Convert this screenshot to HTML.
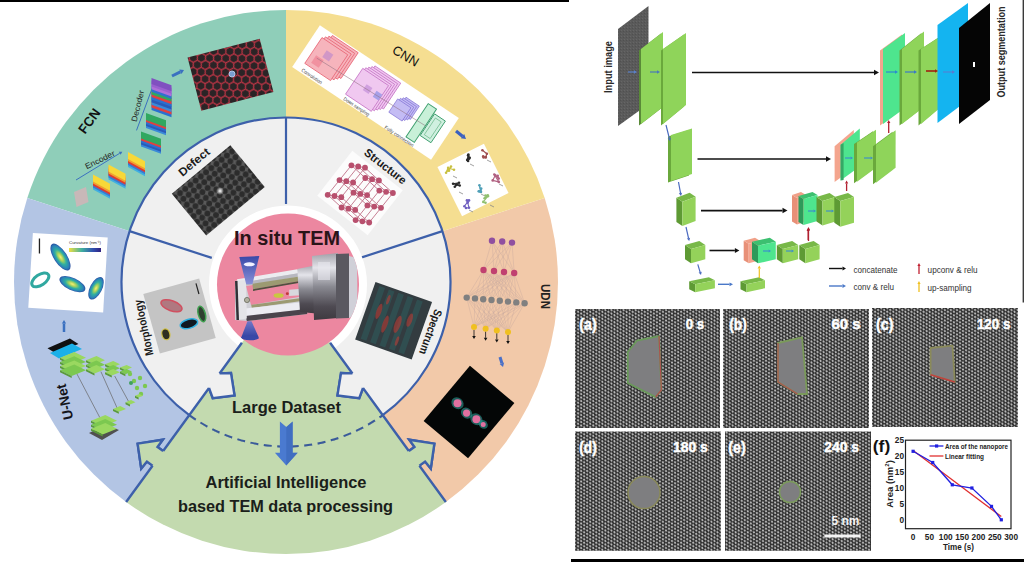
<!DOCTYPE html>
<html><head><meta charset="utf-8"><style>
html,body{margin:0;padding:0;background:#fff;width:1024px;height:562px;overflow:hidden}
svg{display:block}
text{font-family:'Liberation Sans',sans-serif}
</style></head><body>
<svg width="1024" height="562" viewBox="0 0 1024 562">
<rect x="0" y="0" width="569" height="2" fill="#000"/>
<path d="M286,282 L286.00,10.00 A272,272 0 0 0 27.31,197.95 Z" fill="#8fceb9" />
<path d="M286,282 L27.31,197.95 A272,272 0 0 0 126.12,502.05 Z" fill="#b3c5e4" />
<path d="M286,282 L126.12,502.05 A272,272 0 0 0 445.88,502.05 Z" fill="#c3daaf" />
<path d="M286,282 L445.88,502.05 A272,272 0 0 0 544.69,197.95 Z" fill="#f2c9a9" />
<path d="M286,282 L544.69,197.95 A272,272 0 0 0 286.00,10.00 Z" fill="#f5de91" />
<path d="M286,282 L382.69,415.08 A164.5,164.5 0 1 0 189.31,415.08 Z" fill="#f0f0f0" />
<path d="M382.69,415.08 A164.5,164.5 0 1 0 189.31,415.08" fill="none" stroke="#3d60aa" stroke-width="2.2"/>
<path d="M189.31,415.08 A164.5,164.5 0 0 0 382.69,415.08" fill="none" stroke="#3a5a9a" stroke-width="2" stroke-dasharray="8,5.5"/>
<line x1="286.00" y1="204.00" x2="286.00" y2="117.50" stroke="#3d60aa" stroke-width="2.2"/>
<line x1="211.82" y1="257.90" x2="129.55" y2="231.17" stroke="#3d60aa" stroke-width="2.2"/>
<line x1="360.18" y1="257.90" x2="442.45" y2="231.17" stroke="#3d60aa" stroke-width="2.2"/>
<circle cx="288" cy="284.5" r="79" fill="#ffffff"/>
<path d="M286,282 L188.72,415.89 A165.5,165.5 0 0 0 383.28,415.89 Z" fill="#c3daaf" />
<path d="M189.31,415.08 A164.5,164.5 0 0 0 382.69,415.08" fill="none" stroke="#3a5a9a" stroke-width="2" stroke-dasharray="8,5.5"/>
<path d="M241.92,342.68 L219.58,373.42 L230.98,373.05 L234.52,395.40 L212.75,398.13 L209.00,387.98 L163.15,451.08 L157.49,446.97 L162.78,439.69 L137.64,443.67 L141.22,468.52 L146.91,461.53 L152.57,465.65 L126.12,502.05" fill="none" stroke="#3d60aa" stroke-width="2.4" stroke-linejoin="miter"/>
<path d="M217.15,371.66 L219.58,373.42 L230.98,373.05 L234.52,395.40 L212.75,398.13 L209.00,387.98 L206.57,386.22Z" fill="#f0f0f0" stroke="none"/>
<path d="M165.58,452.85 L163.15,451.08 L157.49,446.97 L162.78,439.69 L137.64,443.67 L141.22,468.52 L146.91,461.53 L152.57,465.65 L155.00,467.41Z" fill="#c3daaf" stroke="none"/>
<path d="M219.58,373.42 L230.98,373.05 L234.52,395.40 L212.75,398.13 L209.00,387.98" fill="none" stroke="#3d60aa" stroke-width="2.4"/>
<path d="M163.15,451.08 L157.49,446.97 L162.78,439.69 L137.64,443.67 L141.22,468.52 L146.91,461.53 L152.57,465.65" fill="none" stroke="#3d60aa" stroke-width="2.4"/>
<path d="M330.08,342.68 L352.42,373.42 L341.02,373.05 L337.48,395.40 L359.25,398.13 L363.00,387.98 L408.85,451.08 L414.51,446.97 L409.22,439.69 L434.36,443.67 L430.78,468.52 L425.09,461.53 L419.43,465.65 L445.88,502.05" fill="none" stroke="#3d60aa" stroke-width="2.4" stroke-linejoin="miter"/>
<path d="M354.85,371.66 L352.42,373.42 L341.02,373.05 L337.48,395.40 L359.25,398.13 L363.00,387.98 L365.43,386.22Z" fill="#f0f0f0" stroke="none"/>
<path d="M406.42,452.85 L408.85,451.08 L414.51,446.97 L409.22,439.69 L434.36,443.67 L430.78,468.52 L425.09,461.53 L419.43,465.65 L417.00,467.41Z" fill="#c3daaf" stroke="none"/>
<path d="M352.42,373.42 L341.02,373.05 L337.48,395.40 L359.25,398.13 L363.00,387.98" fill="none" stroke="#3d60aa" stroke-width="2.4"/>
<path d="M408.85,451.08 L414.51,446.97 L409.22,439.69 L434.36,443.67 L430.78,468.52 L425.09,461.53 L419.43,465.65" fill="none" stroke="#3d60aa" stroke-width="2.4"/>
<circle cx="288" cy="284.5" r="71" fill="#ec87a0"/>
<defs>
<linearGradient id="hcyl" x1="0" y1="0" x2="1" y2="0"><stop offset="0" stop-color="#6a6a72"/><stop offset="0.3" stop-color="#c8c8d0"/><stop offset="0.6" stop-color="#8a8a92"/><stop offset="1" stop-color="#4a4a52"/></linearGradient>
<linearGradient id="hcyl3" x1="0" y1="0" x2="0" y2="1"><stop offset="0" stop-color="#a0a0a8"/><stop offset="0.22" stop-color="#e4e4ea"/><stop offset="0.5" stop-color="#8a8a92"/><stop offset="0.8" stop-color="#4e4a52"/><stop offset="1" stop-color="#3e3a40"/></linearGradient>
<linearGradient id="hframe" x1="0" y1="0" x2="0" y2="1"><stop offset="0" stop-color="#e8e8ec"/><stop offset="1" stop-color="#c0c0c8"/></linearGradient>
<linearGradient id="hcone" x1="0" y1="0" x2="0" y2="1"><stop offset="0" stop-color="#3848a8"/><stop offset="1" stop-color="#8890d8"/></linearGradient>
<linearGradient id="hcone2" x1="0" y1="0" x2="0" y2="1"><stop offset="0" stop-color="#7078c8"/><stop offset="1" stop-color="#3040a0"/></linearGradient>
</defs>
<defs><clipPath id="pinkclip"><circle cx="288" cy="284.5" r="71"/></clipPath></defs><g clip-path="url(#pinkclip)">
<polygon points="235,281 297,271 307,307 307.3,314 246.8,321 235,320" fill="#d0d0d6"/>
<polygon points="246,286 299,278 304.8,296 251,305" fill="#ec87a0"/>
<polygon points="236.9,279.3 297.3,269.3 299.8,273.1 238.1,283" fill="#ececf0"/>
<polygon points="238.1,283 299.8,273.1 299.8,276.5 240,286.5" fill="#b8b8c0"/>
<polygon points="252.4,283.7 297.9,276.8 298.5,281.2 253,289.3" fill="#9c9a72"/>
<polygon points="253,289.3 298.5,281.2 298.5,283 253,291" fill="#505040"/>
<polygon points="251.2,304.8 304.8,297.4 304.8,300.5 251.8,308" fill="#9c9a72"/>
<polygon points="245,308.6 306,301.7 306.6,309 245.6,316" fill="#ececf2"/>
<polygon points="245.6,316 306.6,309 307.3,314 246.8,321" fill="#4a444c"/>
<polygon points="235,281 246,280 246.8,318.6 237,320" fill="#e4e4e8"/>
<polygon points="235,281 237.5,281 239,320 236.5,320" fill="#303036"/>
<circle cx="247" cy="300" r="2.6" fill="#b0b0a0" stroke="#606050" stroke-width="0.7"/>
<polygon points="289.2,289.8 304.8,288.5 304.8,294.9 289.2,296" fill="#d8d8de"/>
<ellipse cx="278.6" cy="295.5" rx="5" ry="2.3" fill="#c8c840"/>
<ellipse cx="287.3" cy="293.7" rx="1.5" ry="1.4" fill="#c03838"/>
<polygon points="297.3,269 322,264 322,314 300,312" fill="url(#hcyl3)"/>
<polygon points="312,256 338,253 338,318 314,320" fill="url(#hcyl3)"/>
<polygon points="336,254 349,253.5 349,318 336,318.5" fill="#5a5860"/>
<polygon points="349,256 357,258 357.5,315 349,318" fill="#d0d0d8"/>
<rect x="318" y="262" width="12" height="18" fill="#e8e8ee" opacity="0.6"/>
<polygon points="239.3,257 259.3,256 252.4,284.3 246.2,284.3" fill="url(#hcone)"/>
<ellipse cx="249.3" cy="264.3" rx="5.6" ry="2" fill="#f0f0ff"/>
<polygon points="247.5,321.2 251.5,321.2 258.8,337.5 241,338" fill="url(#hcone2)"/>
<ellipse cx="250" cy="338" rx="9" ry="2.2" fill="#3848a8"/>
</g>
<text x="287" y="238" font-size="20" font-weight="bold" fill="#2a1418" text-anchor="middle" dominant-baseline="central" textLength="106" lengthAdjust="spacingAndGlyphs" >In situ TEM</text>
<text x="286.5" y="407" font-size="16.4" font-weight="bold" fill="#1a201a" text-anchor="middle" dominant-baseline="central" textLength="109" lengthAdjust="spacingAndGlyphs" >Large Dataset</text>
<text x="286" y="482" font-size="16.4" font-weight="bold" fill="#1a201a" text-anchor="middle" dominant-baseline="central" textLength="161" lengthAdjust="spacingAndGlyphs" >Artificial Intelligence</text>
<text x="285.5" y="506" font-size="16.4" font-weight="bold" fill="#1a201a" text-anchor="middle" dominant-baseline="central" textLength="215" lengthAdjust="spacingAndGlyphs" >based TEM data processing</text>
<polygon points="279.9,421.4 286.3,427 292.7,421.4 292.7,452.7 297.7,452.7 286.3,465.5 274.9,452.7 279.9,452.7" fill="#4a7ad0"/><polygon points="286.3,427 292.7,421.4 292.7,452.7 297.7,452.7 286.3,465.5" fill="#3a66b8" opacity="0.6"/>
<defs>
<pattern id="hexred" width="10.4" height="6" patternUnits="userSpaceOnUse" patternTransform="rotate(-14.5) scale(1.35)">
<rect width="10.4" height="6" fill="#2a2426"/>
<path d="M0,3 L1.73,0 L5.2,0 L6.93,3 L5.2,6 L1.73,6 Z M6.93,3 L10.4,3" fill="none" stroke="#b83444" stroke-width="1.0"/>
</pattern>
<pattern id="hexgray" width="9" height="7.8" patternUnits="userSpaceOnUse" patternTransform="rotate(-40) scale(1.12)">
<rect width="9" height="7.8" fill="#5a5a5a"/>
<circle cx="4.5" cy="3.9" r="2.7" fill="#2c2c2c"/>
<circle cx="0" cy="0" r="2.7" fill="#2c2c2c"/><circle cx="9" cy="0" r="2.7" fill="#2c2c2c"/>
<circle cx="0" cy="7.8" r="2.7" fill="#2c2c2c"/><circle cx="9" cy="7.8" r="2.7" fill="#2c2c2c"/>
</pattern>
<radialGradient id="dotw"><stop offset="0" stop-color="#fff"/><stop offset="1" stop-color="#fff" stop-opacity="0"/></radialGradient>
<radialGradient id="ell" cx="0.5" cy="0.5" r="0.5"><stop offset="0" stop-color="#f0f080"/><stop offset="0.45" stop-color="#40b0a0"/><stop offset="0.8" stop-color="#2a7ab0"/><stop offset="1" stop-color="#30a090"/></radialGradient>
<linearGradient id="cyl" x1="0" y1="0" x2="0" y2="1"><stop offset="0" stop-color="#e8e8ec"/><stop offset="0.35" stop-color="#b8b8c0"/><stop offset="0.7" stop-color="#707078"/><stop offset="1" stop-color="#4a4a50"/></linearGradient>
<linearGradient id="cyl2" x1="0" y1="0" x2="1" y2="0"><stop offset="0" stop-color="#58585e"/><stop offset="0.5" stop-color="#a0a0a8"/><stop offset="1" stop-color="#606068"/></linearGradient>
<linearGradient id="cone" x1="0" y1="0" x2="0" y2="1"><stop offset="0" stop-color="#3040a0"/><stop offset="1" stop-color="#5060c0"/></linearGradient>
</defs>
<rect x="193.25" y="47.20" width="74.5" height="55" fill="url(#hexred)" transform="rotate(-14.5 230.5 74.7)" />
<circle cx="232" cy="74" r="3" fill="#7aa0d0" stroke="#b0c8e8" stroke-width="1"/>
<text x="89.4" y="121.1" font-size="13.5" font-weight="bold" fill="#111" text-anchor="middle" dominant-baseline="central" textLength="27" lengthAdjust="spacingAndGlyphs" transform="rotate(-54 89.4 121.1)" >FCN</text>
<text x="100" y="160" font-size="8" font-weight="normal" fill="#222" text-anchor="middle" dominant-baseline="central" textLength="32" lengthAdjust="spacingAndGlyphs" transform="rotate(-26 100 160)" >Encoder</text>
<text x="138" y="106" font-size="8" font-weight="normal" fill="#222" text-anchor="middle" dominant-baseline="central" textLength="32" lengthAdjust="spacingAndGlyphs" transform="rotate(-76 138 106)" >Decoder</text>
<line x1="76" y1="180" x2="119.7" y2="153.3" stroke="#3a70c0" stroke-width="1"/>
<polygon points="122.3,151.7 120.7,154.8 118.8,151.7" fill="#3a70c0" />
<line x1="136.5" y1="130.4" x2="153.3" y2="85.1" stroke="#3a70c0" stroke-width="1"/>
<polygon points="154.3,82.3 154.9,85.7 151.6,84.5" fill="#3a70c0" />
<polygon points="74.0,192.0 86.0,187.0 88.5,202.0 76.5,207.0" fill="#c8b8b8" />
<polygon points="93.0,182.5 110.0,191.8 110.0,198.8 93.0,189.5" fill="#40b0e0" />
<polygon points="93.0,180.5 110.0,189.8 110.0,196.8 93.0,187.5" fill="#3a7ad0" />
<polygon points="93.0,178.5 110.0,187.8 110.0,194.8 93.0,185.5" fill="#e03a30" />
<polygon points="93.0,176.5 110.0,185.8 110.0,192.8 93.0,183.5" fill="#f0a030" />
<polygon points="93.0,174.5 110.0,183.8 110.0,190.8 93.0,181.5" fill="#f8d838" />
<polygon points="108.5,172.5 125.5,181.8 125.5,188.8 108.5,179.5" fill="#40b0e0" />
<polygon points="108.5,170.5 125.5,179.8 125.5,186.8 108.5,177.5" fill="#3a7ad0" />
<polygon points="108.5,168.5 125.5,177.8 125.5,184.8 108.5,175.5" fill="#e03a30" />
<polygon points="108.5,166.5 125.5,175.8 125.5,182.8 108.5,173.5" fill="#f0a030" />
<polygon points="108.5,164.5 125.5,173.8 125.5,180.8 108.5,171.5" fill="#f8d838" />
<polygon points="128.0,160.0 145.0,169.3 145.0,176.3 128.0,167.0" fill="#40b0e0" />
<polygon points="128.0,158.0 145.0,167.3 145.0,174.3 128.0,165.0" fill="#3a7ad0" />
<polygon points="128.0,156.0 145.0,165.3 145.0,172.3 128.0,163.0" fill="#e03a30" />
<polygon points="128.0,154.0 145.0,163.3 145.0,170.3 128.0,161.0" fill="#f0a030" />
<polygon points="128.0,152.0 145.0,161.3 145.0,168.3 128.0,159.0" fill="#f8d838" />
<polygon points="141.0,139.5 161.0,146.7 161.0,153.7 141.0,146.5" fill="#3a8ad8" />
<polygon points="141.0,137.5 161.0,144.7 161.0,151.7 141.0,144.5" fill="#2a5ab8" />
<polygon points="141.0,135.5 161.0,142.7 161.0,149.7 141.0,142.5" fill="#2a70d0" />
<polygon points="141.0,133.5 161.0,140.7 161.0,147.7 141.0,140.5" fill="#e04040" />
<polygon points="141.0,131.5 161.0,138.7 161.0,145.7 141.0,138.5" fill="#30a860" />
<polygon points="146.0,121.0 166.0,128.2 166.0,135.2 146.0,128.0" fill="#3a8ad8" />
<polygon points="146.0,119.0 166.0,126.2 166.0,133.2 146.0,126.0" fill="#2a5ab8" />
<polygon points="146.0,117.0 166.0,124.2 166.0,131.2 146.0,124.0" fill="#2a70d0" />
<polygon points="146.0,115.0 166.0,122.2 166.0,129.2 146.0,122.0" fill="#e04040" />
<polygon points="146.0,113.0 166.0,120.2 166.0,127.2 146.0,120.0" fill="#30a860" />
<polygon points="151.5,104.0 171.5,111.2 171.5,117.2 151.5,110.0" fill="#2a70d0" />
<polygon points="151.5,101.4 171.5,108.6 171.5,114.6 151.5,107.4" fill="#e04040" />
<polygon points="151.5,98.8 171.5,106.0 171.5,112.0 151.5,104.8" fill="#3a8ad8" />
<polygon points="151.5,96.2 171.5,103.4 171.5,109.4 151.5,102.2" fill="#2a5ab8" />
<polygon points="151.5,93.6 171.5,100.8 171.5,106.8 151.5,99.6" fill="#2a70d0" />
<polygon points="151.5,91.0 171.5,98.2 171.5,104.2 151.5,97.0" fill="#e04040" />
<polygon points="151.5,88.4 171.5,95.6 171.5,101.6 151.5,94.4" fill="#30a860" />
<polygon points="151.5,85.8 171.5,93.0 171.5,99.0 151.5,91.8" fill="#3070d0" />
<polygon points="151.5,83.2 171.5,90.4 171.5,96.4 151.5,89.2" fill="#b070d8" />
<polygon points="151.5,80.6 171.5,87.8 171.5,93.8 151.5,86.6" fill="#9a60d0" />
<polygon points="151.5,78.0 171.5,85.2 171.5,91.2 151.5,84.0" fill="#8050c0" />
<line x1="172" y1="76" x2="180.4" y2="71.8" stroke="#3a70c0" stroke-width="3"/>
<polygon points="184.0,70.0 181.5,73.9 179.3,69.6" fill="#3a70c0" />
<rect x="292.00" y="67.50" width="167" height="50" fill="#ffffff" transform="rotate(33.7 375.5 92.5)" />
<g transform="translate(375.5 92.5) rotate(33.7)">
<rect x="-67.5" y="-23.5" width="31" height="31" fill="#f6b4bc" stroke="#e86878" stroke-width="0.8"/>
<rect x="-70.0" y="-21.0" width="31" height="31" fill="#f6b4bc" stroke="#e86878" stroke-width="0.8"/>
<rect x="-72.5" y="-18.5" width="31" height="31" fill="#f6b4bc" stroke="#e86878" stroke-width="0.8"/>
<rect x="-75.0" y="-16.0" width="31" height="31" fill="#f6b4bc" stroke="#e86878" stroke-width="0.8"/>
<rect x="-70" y="2" width="9" height="9" fill="#f08898" opacity="0.8"/><rect x="-64" y="-8" width="8" height="8" fill="#c890c8" opacity="0.8"/>
<rect x="-15.2" y="-21.8" width="31" height="31" fill="#f0c8f0" stroke="#c878c8" stroke-width="0.8"/>
<rect x="-17.4" y="-19.6" width="31" height="31" fill="#f0c8f0" stroke="#c878c8" stroke-width="0.8"/>
<rect x="-19.6" y="-17.4" width="31" height="31" fill="#f0c8f0" stroke="#c878c8" stroke-width="0.8"/>
<rect x="-21.8" y="-15.2" width="31" height="31" fill="#f0c8f0" stroke="#c878c8" stroke-width="0.8"/>
<rect x="-24.0" y="-13.0" width="31" height="31" fill="#f0c8f0" stroke="#c878c8" stroke-width="0.8"/>
<rect x="-12" y="-2" width="7" height="7" fill="#d0a0e0"/><rect x="0" y="-2" width="7" height="7" fill="#a8a0e8"/>
<rect x="28.0" y="-13.0" width="16" height="16" fill="#c4bcf4" stroke="#7868d0" stroke-width="0.6"/>
<rect x="26.0" y="-11.0" width="16" height="16" fill="#c4bcf4" stroke="#7868d0" stroke-width="0.6"/>
<rect x="24.0" y="-9.0" width="16" height="16" fill="#c4bcf4" stroke="#7868d0" stroke-width="0.6"/>
<rect x="22.0" y="-7.0" width="16" height="16" fill="#c4bcf4" stroke="#7868d0" stroke-width="0.6"/>
<rect x="50" y="-20" width="10" height="40" fill="#c8f0d8" stroke="#40a070" stroke-width="1"/>
<rect x="61" y="-15" width="13" height="26" fill="#d0f0e0" stroke="#40a070" stroke-width="0.9"/>
<rect x="64" y="-12" width="7" height="20" fill="none" stroke="#60b080" stroke-width="0.6"/>
<line x1="-68" y1="4" x2="60" y2="0" stroke="#907080" stroke-width="0.5"/>
<text x="-62" y="21.5" font-size="5" font-weight="normal" fill="#444" text-anchor="middle" dominant-baseline="central" textLength="24" lengthAdjust="spacingAndGlyphs" >Convolution</text>
<text x="-8" y="22" font-size="5" font-weight="normal" fill="#444" text-anchor="middle" dominant-baseline="central" textLength="30" lengthAdjust="spacingAndGlyphs" >Down sampling</text>
<text x="44" y="23" font-size="5" font-weight="normal" fill="#444" text-anchor="middle" dominant-baseline="central" textLength="34" lengthAdjust="spacingAndGlyphs" >Fully connection</text>
</g>
<text x="405.7" y="56" font-size="13" font-weight="normal" fill="#111" text-anchor="middle" dominant-baseline="central" transform="rotate(31 405.7 56)" >CNN</text>
<rect x="447.00" y="152.50" width="52" height="55" fill="#ffffff" transform="rotate(-26.6 473 180)" />
<line x1="447.9" y1="170.4" x2="449.0" y2="170.8" stroke="#c8c040" stroke-width="1.1"/>
<line x1="449.0" y1="170.8" x2="451.0" y2="166.5" stroke="#c8c040" stroke-width="1.1"/>
<line x1="451.0" y1="166.5" x2="446.1" y2="172.7" stroke="#c8c040" stroke-width="1.1"/>
<line x1="446.1" y1="172.7" x2="448.1" y2="167.9" stroke="#c8c040" stroke-width="1.1"/>
<line x1="448.1" y1="167.9" x2="454.0" y2="169.8" stroke="#c8c040" stroke-width="1.1"/>
<circle cx="447.9" cy="170.4" r="1.3" fill="#c8c040"/>
<circle cx="449.0" cy="170.8" r="1.3" fill="#c8c040"/>
<circle cx="451.0" cy="166.5" r="1.3" fill="#c8c040"/>
<circle cx="446.1" cy="172.7" r="1.3" fill="#c8c040"/>
<circle cx="448.1" cy="167.9" r="1.3" fill="#c8c040"/>
<circle cx="454.0" cy="169.8" r="1.3" fill="#c8c040"/>
<line x1="453" y1="176" x2="457" y2="178" stroke="#888" stroke-width="0.8"/>
<line x1="469.7" y1="157.8" x2="468.1" y2="155.2" stroke="#2a2a2a" stroke-width="1.1"/>
<line x1="468.1" y1="155.2" x2="468.1" y2="160.9" stroke="#2a2a2a" stroke-width="1.1"/>
<line x1="468.1" y1="160.9" x2="467.2" y2="159.9" stroke="#2a2a2a" stroke-width="1.1"/>
<line x1="467.2" y1="159.9" x2="468.4" y2="154.5" stroke="#2a2a2a" stroke-width="1.1"/>
<line x1="468.4" y1="154.5" x2="469.1" y2="158.7" stroke="#2a2a2a" stroke-width="1.1"/>
<circle cx="469.7" cy="157.8" r="1.3" fill="#2a2a2a"/>
<circle cx="468.1" cy="155.2" r="1.3" fill="#2a2a2a"/>
<circle cx="468.1" cy="160.9" r="1.3" fill="#2a2a2a"/>
<circle cx="467.2" cy="159.9" r="1.3" fill="#2a2a2a"/>
<circle cx="468.4" cy="154.5" r="1.3" fill="#2a2a2a"/>
<circle cx="469.1" cy="158.7" r="1.3" fill="#2a2a2a"/>
<line x1="470" y1="164" x2="474" y2="166" stroke="#888" stroke-width="0.8"/>
<line x1="482.4" y1="150.2" x2="486.9" y2="153.8" stroke="#a05050" stroke-width="1.1"/>
<line x1="486.9" y1="153.8" x2="485.8" y2="157.0" stroke="#a05050" stroke-width="1.1"/>
<line x1="485.8" y1="157.0" x2="485.7" y2="157.4" stroke="#a05050" stroke-width="1.1"/>
<line x1="485.7" y1="157.4" x2="483.2" y2="156.4" stroke="#a05050" stroke-width="1.1"/>
<line x1="483.2" y1="156.4" x2="483.6" y2="157.5" stroke="#a05050" stroke-width="1.1"/>
<circle cx="482.4" cy="150.2" r="1.3" fill="#a05050"/>
<circle cx="486.9" cy="153.8" r="1.3" fill="#a05050"/>
<circle cx="485.8" cy="157.0" r="1.3" fill="#a05050"/>
<circle cx="485.7" cy="157.4" r="1.3" fill="#a05050"/>
<circle cx="483.2" cy="156.4" r="1.3" fill="#a05050"/>
<circle cx="483.6" cy="157.5" r="1.3" fill="#a05050"/>
<line x1="487" y1="160" x2="491" y2="162" stroke="#888" stroke-width="0.8"/>
<line x1="459.0" y1="182.8" x2="453.1" y2="183.7" stroke="#2a2a2a" stroke-width="1.1"/>
<line x1="453.1" y1="183.7" x2="459.7" y2="185.5" stroke="#2a2a2a" stroke-width="1.1"/>
<line x1="459.7" y1="185.5" x2="457.0" y2="184.4" stroke="#2a2a2a" stroke-width="1.1"/>
<line x1="457.0" y1="184.4" x2="456.1" y2="185.1" stroke="#2a2a2a" stroke-width="1.1"/>
<line x1="456.1" y1="185.1" x2="454.8" y2="186.7" stroke="#2a2a2a" stroke-width="1.1"/>
<circle cx="459.0" cy="182.8" r="1.3" fill="#2a2a2a"/>
<circle cx="453.1" cy="183.7" r="1.3" fill="#2a2a2a"/>
<circle cx="459.7" cy="185.5" r="1.3" fill="#2a2a2a"/>
<circle cx="457.0" cy="184.4" r="1.3" fill="#2a2a2a"/>
<circle cx="456.1" cy="185.1" r="1.3" fill="#2a2a2a"/>
<circle cx="454.8" cy="186.7" r="1.3" fill="#2a2a2a"/>
<line x1="459" y1="192" x2="463" y2="194" stroke="#888" stroke-width="0.8"/>
<line x1="478.7" y1="191.2" x2="479.5" y2="191.4" stroke="#50a0b8" stroke-width="1.1"/>
<line x1="479.5" y1="191.4" x2="480.9" y2="191.9" stroke="#50a0b8" stroke-width="1.1"/>
<line x1="480.9" y1="191.9" x2="479.4" y2="185.3" stroke="#50a0b8" stroke-width="1.1"/>
<line x1="479.4" y1="185.3" x2="480.9" y2="191.7" stroke="#50a0b8" stroke-width="1.1"/>
<line x1="480.9" y1="191.7" x2="481.2" y2="188.6" stroke="#50a0b8" stroke-width="1.1"/>
<circle cx="478.7" cy="191.2" r="1.3" fill="#50a0b8"/>
<circle cx="479.5" cy="191.4" r="1.3" fill="#50a0b8"/>
<circle cx="480.9" cy="191.9" r="1.3" fill="#50a0b8"/>
<circle cx="479.4" cy="185.3" r="1.3" fill="#50a0b8"/>
<circle cx="480.9" cy="191.7" r="1.3" fill="#50a0b8"/>
<circle cx="481.2" cy="188.6" r="1.3" fill="#50a0b8"/>
<line x1="481" y1="194" x2="485" y2="196" stroke="#888" stroke-width="0.8"/>
<line x1="497.7" y1="175.7" x2="498.7" y2="178.6" stroke="#b06080" stroke-width="1.1"/>
<line x1="498.7" y1="178.6" x2="494.3" y2="174.5" stroke="#b06080" stroke-width="1.1"/>
<line x1="494.3" y1="174.5" x2="498.8" y2="181.9" stroke="#b06080" stroke-width="1.1"/>
<line x1="498.8" y1="181.9" x2="492.7" y2="180.4" stroke="#b06080" stroke-width="1.1"/>
<line x1="492.7" y1="180.4" x2="495.3" y2="175.2" stroke="#b06080" stroke-width="1.1"/>
<circle cx="497.7" cy="175.7" r="1.3" fill="#b06080"/>
<circle cx="498.7" cy="178.6" r="1.3" fill="#b06080"/>
<circle cx="494.3" cy="174.5" r="1.3" fill="#b06080"/>
<circle cx="498.8" cy="181.9" r="1.3" fill="#b06080"/>
<circle cx="492.7" cy="180.4" r="1.3" fill="#b06080"/>
<circle cx="495.3" cy="175.2" r="1.3" fill="#b06080"/>
<line x1="499" y1="184" x2="503" y2="186" stroke="#888" stroke-width="0.8"/>
<line x1="464.4" y1="206.2" x2="469.0" y2="200.4" stroke="#7060c0" stroke-width="1.1"/>
<line x1="469.0" y1="200.4" x2="466.9" y2="200.4" stroke="#7060c0" stroke-width="1.1"/>
<line x1="466.9" y1="200.4" x2="467.7" y2="202.6" stroke="#7060c0" stroke-width="1.1"/>
<line x1="467.7" y1="202.6" x2="469.0" y2="207.8" stroke="#7060c0" stroke-width="1.1"/>
<line x1="469.0" y1="207.8" x2="466.0" y2="208.0" stroke="#7060c0" stroke-width="1.1"/>
<circle cx="464.4" cy="206.2" r="1.3" fill="#7060c0"/>
<circle cx="469.0" cy="200.4" r="1.3" fill="#7060c0"/>
<circle cx="466.9" cy="200.4" r="1.3" fill="#7060c0"/>
<circle cx="467.7" cy="202.6" r="1.3" fill="#7060c0"/>
<circle cx="469.0" cy="207.8" r="1.3" fill="#7060c0"/>
<circle cx="466.0" cy="208.0" r="1.3" fill="#7060c0"/>
<line x1="469" y1="210" x2="473" y2="212" stroke="#888" stroke-width="0.8"/>
<line x1="485.5" y1="195.6" x2="487.8" y2="195.3" stroke="#90c070" stroke-width="1.1"/>
<line x1="487.8" y1="195.3" x2="484.6" y2="198.3" stroke="#90c070" stroke-width="1.1"/>
<line x1="484.6" y1="198.3" x2="487.9" y2="196.2" stroke="#90c070" stroke-width="1.1"/>
<line x1="487.9" y1="196.2" x2="483.3" y2="201.9" stroke="#90c070" stroke-width="1.1"/>
<line x1="483.3" y1="201.9" x2="485.5" y2="202.7" stroke="#90c070" stroke-width="1.1"/>
<circle cx="485.5" cy="195.6" r="1.3" fill="#90c070"/>
<circle cx="487.8" cy="195.3" r="1.3" fill="#90c070"/>
<circle cx="484.6" cy="198.3" r="1.3" fill="#90c070"/>
<circle cx="487.9" cy="196.2" r="1.3" fill="#90c070"/>
<circle cx="483.3" cy="201.9" r="1.3" fill="#90c070"/>
<circle cx="485.5" cy="202.7" r="1.3" fill="#90c070"/>
<line x1="490" y1="205" x2="494" y2="207" stroke="#888" stroke-width="0.8"/>
<line x1="456" y1="131" x2="462.5" y2="136.2" stroke="#3a60c0" stroke-width="3.2"/>
<polygon points="466.0,139.0 460.8,138.3 464.2,134.1" fill="#3a60c0" />
<line x1="492.0" y1="240.7" x2="483.5" y2="270.0" stroke="#c8a8a0" stroke-width="0.4"/>
<line x1="492.0" y1="240.7" x2="494.0" y2="271.0" stroke="#c8a8a0" stroke-width="0.4"/>
<line x1="492.0" y1="240.7" x2="504.0" y2="272.0" stroke="#c8a8a0" stroke-width="0.4"/>
<line x1="492.0" y1="240.7" x2="514.2" y2="273.0" stroke="#c8a8a0" stroke-width="0.4"/>
<line x1="502.2" y1="241.5" x2="483.5" y2="270.0" stroke="#c8a8a0" stroke-width="0.4"/>
<line x1="502.2" y1="241.5" x2="494.0" y2="271.0" stroke="#c8a8a0" stroke-width="0.4"/>
<line x1="502.2" y1="241.5" x2="504.0" y2="272.0" stroke="#c8a8a0" stroke-width="0.4"/>
<line x1="502.2" y1="241.5" x2="514.2" y2="273.0" stroke="#c8a8a0" stroke-width="0.4"/>
<line x1="512.0" y1="242.6" x2="483.5" y2="270.0" stroke="#c8a8a0" stroke-width="0.4"/>
<line x1="512.0" y1="242.6" x2="494.0" y2="271.0" stroke="#c8a8a0" stroke-width="0.4"/>
<line x1="512.0" y1="242.6" x2="504.0" y2="272.0" stroke="#c8a8a0" stroke-width="0.4"/>
<line x1="512.0" y1="242.6" x2="514.2" y2="273.0" stroke="#c8a8a0" stroke-width="0.4"/>
<line x1="483.5" y1="270.0" x2="466.7" y2="297.6" stroke="#c8a8a0" stroke-width="0.4"/>
<line x1="483.5" y1="270.0" x2="475.0" y2="298.4" stroke="#c8a8a0" stroke-width="0.4"/>
<line x1="483.5" y1="270.0" x2="483.2" y2="299.2" stroke="#c8a8a0" stroke-width="0.4"/>
<line x1="483.5" y1="270.0" x2="491.5" y2="300.0" stroke="#c8a8a0" stroke-width="0.4"/>
<line x1="483.5" y1="270.0" x2="499.8" y2="300.8" stroke="#c8a8a0" stroke-width="0.4"/>
<line x1="483.5" y1="270.0" x2="508.0" y2="301.6" stroke="#c8a8a0" stroke-width="0.4"/>
<line x1="483.5" y1="270.0" x2="516.3" y2="302.4" stroke="#c8a8a0" stroke-width="0.4"/>
<line x1="483.5" y1="270.0" x2="524.6" y2="303.2" stroke="#c8a8a0" stroke-width="0.4"/>
<line x1="494.0" y1="271.0" x2="466.7" y2="297.6" stroke="#c8a8a0" stroke-width="0.4"/>
<line x1="494.0" y1="271.0" x2="475.0" y2="298.4" stroke="#c8a8a0" stroke-width="0.4"/>
<line x1="494.0" y1="271.0" x2="483.2" y2="299.2" stroke="#c8a8a0" stroke-width="0.4"/>
<line x1="494.0" y1="271.0" x2="491.5" y2="300.0" stroke="#c8a8a0" stroke-width="0.4"/>
<line x1="494.0" y1="271.0" x2="499.8" y2="300.8" stroke="#c8a8a0" stroke-width="0.4"/>
<line x1="494.0" y1="271.0" x2="508.0" y2="301.6" stroke="#c8a8a0" stroke-width="0.4"/>
<line x1="494.0" y1="271.0" x2="516.3" y2="302.4" stroke="#c8a8a0" stroke-width="0.4"/>
<line x1="494.0" y1="271.0" x2="524.6" y2="303.2" stroke="#c8a8a0" stroke-width="0.4"/>
<line x1="504.0" y1="272.0" x2="466.7" y2="297.6" stroke="#c8a8a0" stroke-width="0.4"/>
<line x1="504.0" y1="272.0" x2="475.0" y2="298.4" stroke="#c8a8a0" stroke-width="0.4"/>
<line x1="504.0" y1="272.0" x2="483.2" y2="299.2" stroke="#c8a8a0" stroke-width="0.4"/>
<line x1="504.0" y1="272.0" x2="491.5" y2="300.0" stroke="#c8a8a0" stroke-width="0.4"/>
<line x1="504.0" y1="272.0" x2="499.8" y2="300.8" stroke="#c8a8a0" stroke-width="0.4"/>
<line x1="504.0" y1="272.0" x2="508.0" y2="301.6" stroke="#c8a8a0" stroke-width="0.4"/>
<line x1="504.0" y1="272.0" x2="516.3" y2="302.4" stroke="#c8a8a0" stroke-width="0.4"/>
<line x1="504.0" y1="272.0" x2="524.6" y2="303.2" stroke="#c8a8a0" stroke-width="0.4"/>
<line x1="514.2" y1="273.0" x2="466.7" y2="297.6" stroke="#c8a8a0" stroke-width="0.4"/>
<line x1="514.2" y1="273.0" x2="475.0" y2="298.4" stroke="#c8a8a0" stroke-width="0.4"/>
<line x1="514.2" y1="273.0" x2="483.2" y2="299.2" stroke="#c8a8a0" stroke-width="0.4"/>
<line x1="514.2" y1="273.0" x2="491.5" y2="300.0" stroke="#c8a8a0" stroke-width="0.4"/>
<line x1="514.2" y1="273.0" x2="499.8" y2="300.8" stroke="#c8a8a0" stroke-width="0.4"/>
<line x1="514.2" y1="273.0" x2="508.0" y2="301.6" stroke="#c8a8a0" stroke-width="0.4"/>
<line x1="514.2" y1="273.0" x2="516.3" y2="302.4" stroke="#c8a8a0" stroke-width="0.4"/>
<line x1="514.2" y1="273.0" x2="524.6" y2="303.2" stroke="#c8a8a0" stroke-width="0.4"/>
<line x1="466.7" y1="297.6" x2="474.0" y2="327.0" stroke="#c8a8a0" stroke-width="0.4"/>
<line x1="466.7" y1="297.6" x2="485.6" y2="328.8" stroke="#c8a8a0" stroke-width="0.4"/>
<line x1="466.7" y1="297.6" x2="496.8" y2="330.4" stroke="#c8a8a0" stroke-width="0.4"/>
<line x1="466.7" y1="297.6" x2="508.0" y2="332.0" stroke="#c8a8a0" stroke-width="0.4"/>
<line x1="475.0" y1="298.4" x2="474.0" y2="327.0" stroke="#c8a8a0" stroke-width="0.4"/>
<line x1="475.0" y1="298.4" x2="485.6" y2="328.8" stroke="#c8a8a0" stroke-width="0.4"/>
<line x1="475.0" y1="298.4" x2="496.8" y2="330.4" stroke="#c8a8a0" stroke-width="0.4"/>
<line x1="475.0" y1="298.4" x2="508.0" y2="332.0" stroke="#c8a8a0" stroke-width="0.4"/>
<line x1="483.2" y1="299.2" x2="474.0" y2="327.0" stroke="#c8a8a0" stroke-width="0.4"/>
<line x1="483.2" y1="299.2" x2="485.6" y2="328.8" stroke="#c8a8a0" stroke-width="0.4"/>
<line x1="483.2" y1="299.2" x2="496.8" y2="330.4" stroke="#c8a8a0" stroke-width="0.4"/>
<line x1="483.2" y1="299.2" x2="508.0" y2="332.0" stroke="#c8a8a0" stroke-width="0.4"/>
<line x1="491.5" y1="300.0" x2="474.0" y2="327.0" stroke="#c8a8a0" stroke-width="0.4"/>
<line x1="491.5" y1="300.0" x2="485.6" y2="328.8" stroke="#c8a8a0" stroke-width="0.4"/>
<line x1="491.5" y1="300.0" x2="496.8" y2="330.4" stroke="#c8a8a0" stroke-width="0.4"/>
<line x1="491.5" y1="300.0" x2="508.0" y2="332.0" stroke="#c8a8a0" stroke-width="0.4"/>
<line x1="499.8" y1="300.8" x2="474.0" y2="327.0" stroke="#c8a8a0" stroke-width="0.4"/>
<line x1="499.8" y1="300.8" x2="485.6" y2="328.8" stroke="#c8a8a0" stroke-width="0.4"/>
<line x1="499.8" y1="300.8" x2="496.8" y2="330.4" stroke="#c8a8a0" stroke-width="0.4"/>
<line x1="499.8" y1="300.8" x2="508.0" y2="332.0" stroke="#c8a8a0" stroke-width="0.4"/>
<line x1="508.0" y1="301.6" x2="474.0" y2="327.0" stroke="#c8a8a0" stroke-width="0.4"/>
<line x1="508.0" y1="301.6" x2="485.6" y2="328.8" stroke="#c8a8a0" stroke-width="0.4"/>
<line x1="508.0" y1="301.6" x2="496.8" y2="330.4" stroke="#c8a8a0" stroke-width="0.4"/>
<line x1="508.0" y1="301.6" x2="508.0" y2="332.0" stroke="#c8a8a0" stroke-width="0.4"/>
<line x1="516.3" y1="302.4" x2="474.0" y2="327.0" stroke="#c8a8a0" stroke-width="0.4"/>
<line x1="516.3" y1="302.4" x2="485.6" y2="328.8" stroke="#c8a8a0" stroke-width="0.4"/>
<line x1="516.3" y1="302.4" x2="496.8" y2="330.4" stroke="#c8a8a0" stroke-width="0.4"/>
<line x1="516.3" y1="302.4" x2="508.0" y2="332.0" stroke="#c8a8a0" stroke-width="0.4"/>
<line x1="524.6" y1="303.2" x2="474.0" y2="327.0" stroke="#c8a8a0" stroke-width="0.4"/>
<line x1="524.6" y1="303.2" x2="485.6" y2="328.8" stroke="#c8a8a0" stroke-width="0.4"/>
<line x1="524.6" y1="303.2" x2="496.8" y2="330.4" stroke="#c8a8a0" stroke-width="0.4"/>
<line x1="524.6" y1="303.2" x2="508.0" y2="332.0" stroke="#c8a8a0" stroke-width="0.4"/>
<circle cx="492" cy="240.7" r="3.2" fill="#9050a0"/>
<circle cx="502.2" cy="241.5" r="3.2" fill="#9050a0"/>
<circle cx="512" cy="242.6" r="3.2" fill="#9050a0"/>
<circle cx="483.5" cy="270" r="3.2" fill="#c04070"/>
<circle cx="494" cy="271" r="3.2" fill="#c04070"/>
<circle cx="504" cy="272" r="3.2" fill="#c04070"/>
<circle cx="514.2" cy="273" r="3.2" fill="#c04070"/>
<circle cx="466.7" cy="297.6" r="3.2" fill="#808080"/>
<circle cx="475.0" cy="298.4" r="3.2" fill="#808080"/>
<circle cx="483.2" cy="299.2" r="3.2" fill="#808080"/>
<circle cx="491.5" cy="300.0" r="3.2" fill="#808080"/>
<circle cx="499.8" cy="300.8" r="3.2" fill="#808080"/>
<circle cx="508.0" cy="301.6" r="3.2" fill="#808080"/>
<circle cx="516.3" cy="302.4" r="3.2" fill="#808080"/>
<circle cx="524.6" cy="303.2" r="3.2" fill="#808080"/>
<circle cx="474" cy="327" r="3" fill="#f0c020"/>
<line x1="474" y1="330" x2="474.0" y2="336.0" stroke="#111" stroke-width="0.8"/>
<polygon points="474.0,339.0 472.2,336.0 475.8,336.0" fill="#111" />
<circle cx="485.6" cy="328.8" r="3" fill="#f0c020"/>
<line x1="485.6" y1="331.8" x2="485.6" y2="337.8" stroke="#111" stroke-width="0.8"/>
<polygon points="485.6,340.8 483.8,337.8 487.4,337.8" fill="#111" />
<circle cx="496.8" cy="330.4" r="3" fill="#f0c020"/>
<line x1="496.8" y1="333.4" x2="496.8" y2="339.4" stroke="#111" stroke-width="0.8"/>
<polygon points="496.8,342.4 495.0,339.4 498.6,339.4" fill="#111" />
<circle cx="508" cy="332" r="3" fill="#f0c020"/>
<line x1="508" y1="335" x2="508.0" y2="341.0" stroke="#111" stroke-width="0.8"/>
<polygon points="508.0,344.0 506.2,341.0 509.8,341.0" fill="#111" />
<rect x="433.00" y="383.00" width="72" height="58" fill="#040606" transform="rotate(-50 469 412)" />
<ellipse cx="457.5" cy="403.3" rx="6.5" ry="5.5" fill="#30a8a0" opacity="0.55" transform="rotate(40 457.5 403.3)"/>
<circle cx="457.5" cy="403.3" r="4" fill="#e070a0"/>
<ellipse cx="466.6" cy="413.1" rx="6.1" ry="5.1" fill="#30a8a0" opacity="0.55" transform="rotate(40 466.6 413.1)"/>
<circle cx="466.6" cy="413.1" r="3.6" fill="#e070a0"/>
<ellipse cx="476.4" cy="419.2" rx="6.5" ry="5.5" fill="#30a8a0" opacity="0.55" transform="rotate(40 476.4 419.2)"/>
<circle cx="476.4" cy="419.2" r="4" fill="#e070a0"/>
<ellipse cx="483.2" cy="424.4" rx="5.0" ry="4.0" fill="#30a8a0" opacity="0.55" transform="rotate(40 483.2 424.4)"/>
<circle cx="483.2" cy="424.4" r="2.5" fill="#e070a0"/>
<line x1="500" y1="357" x2="501.9" y2="363.2" stroke="#4a70c8" stroke-width="3"/>
<polygon points="503.0,367.0 499.6,363.9 504.1,362.5" fill="#4a70c8" />
<text x="544.5" y="296.5" font-size="12" font-weight="bold" fill="#222" text-anchor="middle" dominant-baseline="central" textLength="25" lengthAdjust="spacingAndGlyphs" transform="rotate(90 544.5 296.5)" >UDN</text>
<rect x="30.50" y="235.20" width="75" height="75" fill="#ffffff" transform="rotate(3.5 68 272.7)" />
<defs><radialGradient id="ell2" cx="0.5" cy="0.5" r="0.5"><stop offset="0" stop-color="#f8f070"/><stop offset="0.3" stop-color="#a0d060"/><stop offset="0.55" stop-color="#30b0a0"/><stop offset="0.85" stop-color="#2a80b8"/><stop offset="1" stop-color="#2a50a0"/></radialGradient>
<linearGradient id="cbar" x1="0" x2="1"><stop offset="0" stop-color="#f0e040"/><stop offset="0.4" stop-color="#40b0a0"/><stop offset="0.75" stop-color="#3050b0"/><stop offset="1" stop-color="#302080"/></linearGradient></defs>
<ellipse cx="60.5" cy="257.1" rx="15.5" ry="6.5" fill="url(#ell2)" transform="rotate(57 60.5 257.1)"/>
<ellipse cx="72.4" cy="284.1" rx="14" ry="6.2" fill="url(#ell2)" transform="rotate(25 72.4 284.1)"/>
<ellipse cx="96" cy="288.3" rx="12.3" ry="6" fill="url(#ell2)" transform="rotate(-63 96 288.3)"/>
<ellipse cx="40.3" cy="279.9" rx="9.7" ry="5.2" fill="none" stroke="#30a8a0" stroke-width="3" transform="rotate(-34 40.3 279.9)"/>
<rect x="38.8" y="238.5" width="1.3" height="15" fill="#222"/>
<rect x="69" y="248" width="32" height="4" fill="url(#cbar)"/>
<text x="85" y="242.5" font-size="4" font-weight="normal" fill="#333" text-anchor="middle" dominant-baseline="central" textLength="32" lengthAdjust="spacingAndGlyphs" >Curvature (nm⁻¹)</text>
<line x1="64" y1="332" x2="64.0" y2="323.5" stroke="#3a70c0" stroke-width="2.5"/>
<polygon points="64.0,320.0 66.1,323.5 61.9,323.5" fill="#3a70c0" />
<polygon points="47.5,348.2 69.9,338.5 78.4,343.9 56.0,353.5" fill="#101010" />
<polygon points="50.0,353.0 72.0,343.5 82.0,349.0 59.0,358.5" fill="#1ab0e8" />
<line x1="75.2" y1="370.6" x2="99.8" y2="417.5" stroke="#666" stroke-width="0.7"/>
<line x1="100.9" y1="371.6" x2="118" y2="410" stroke="#666" stroke-width="0.7"/>
<line x1="114.7" y1="376" x2="128.6" y2="401.5" stroke="#666" stroke-width="0.7"/>
<polygon points="60.0,357.7 74.3,352.0 86.0,357.7 71.7,363.4" fill="#9ad860" />
<polygon points="60.0,357.7 71.7,363.4 71.7,365.4 60.0,359.7" fill="#5a9a3a" />
<polygon points="60.0,361.9 74.3,356.2 86.0,361.9 71.7,367.6" fill="#7cc850" />
<polygon points="60.0,361.9 71.7,367.6 71.7,369.6 60.0,363.9" fill="#5a9a3a" />
<polygon points="60.0,366.1 74.3,360.4 86.0,366.1 71.7,371.8" fill="#9ad860" />
<polygon points="60.0,366.1 71.7,371.8 71.7,373.8 60.0,368.1" fill="#5a9a3a" />
<polygon points="60.0,370.3 74.3,364.6 86.0,370.3 71.7,376.0" fill="#7cc850" />
<polygon points="60.0,370.3 71.7,376.0 71.7,378.0 60.0,372.3" fill="#5a9a3a" />
<polygon points="86.0,360.2 96.5,356.0 105.0,360.2 94.5,364.4" fill="#9ad860" />
<polygon points="86.0,360.2 94.5,364.4 94.5,366.4 86.0,362.2" fill="#5a9a3a" />
<polygon points="86.0,364.7 96.5,360.5 105.0,364.7 94.5,368.9" fill="#7cc850" />
<polygon points="86.0,364.7 94.5,368.9 94.5,370.9 86.0,366.7" fill="#5a9a3a" />
<polygon points="86.0,369.2 96.5,365.0 105.0,369.2 94.5,373.4" fill="#9ad860" />
<polygon points="86.0,369.2 94.5,373.4 94.5,375.4 86.0,371.2" fill="#5a9a3a" />
<polygon points="105.0,364.3 113.2,361.0 120.0,364.3 111.8,367.6" fill="#9ad860" />
<polygon points="105.0,364.3 111.8,367.6 111.8,369.6 105.0,366.3" fill="#5a9a3a" />
<polygon points="105.0,368.3 113.2,365.0 120.0,368.3 111.8,371.6" fill="#7cc850" />
<polygon points="105.0,368.3 111.8,371.6 111.8,373.6 105.0,370.3" fill="#5a9a3a" />
<polygon points="105.0,372.3 113.2,369.0 120.0,372.3 111.8,375.6" fill="#9ad860" />
<polygon points="105.0,372.3 111.8,375.6 111.8,377.6 105.0,374.3" fill="#5a9a3a" />
<polygon points="120.0,367.6 126.6,365.0 132.0,367.6 125.4,370.3" fill="#9ad860" />
<polygon points="120.0,367.6 125.4,370.3 125.4,372.3 120.0,369.6" fill="#5a9a3a" />
<polygon points="120.0,371.6 126.6,369.0 132.0,371.6 125.4,374.3" fill="#7cc850" />
<polygon points="120.0,371.6 125.4,374.3 125.4,376.3 120.0,373.6" fill="#5a9a3a" />
<circle cx="130" cy="374" r="2.2" fill="#7cc850"/>
<circle cx="134" cy="381" r="2.2" fill="#7cc850"/>
<circle cx="137" cy="388" r="2.2" fill="#7cc850"/>
<circle cx="141" cy="394" r="2.2" fill="#7cc850"/>
<circle cx="145" cy="386" r="2.2" fill="#7cc850"/>
<circle cx="140" cy="378" r="2.2" fill="#7cc850"/>
<circle cx="131" cy="383" r="2" fill="#40a060"/>
<polygon points="113.0,408.9 120.2,406.0 126.0,408.9 118.8,411.7" fill="#9ad860" />
<polygon points="113.0,408.9 118.8,411.7 118.8,413.7 113.0,410.9" fill="#5a9a3a" />
<polygon points="125.5,402.2 131.0,400.0 135.5,402.2 130.0,404.4" fill="#9ad860" />
<polygon points="125.5,402.2 130.0,404.4 130.0,406.4 125.5,404.2" fill="#5a9a3a" />
<polygon points="135.0,395.8 139.4,394.0 143.0,395.8 138.6,397.5" fill="#9ad860" />
<polygon points="135.0,395.8 138.6,397.5 138.6,399.5 135.0,397.8" fill="#5a9a3a" />
<polygon points="89.0,433.0 106.0,425.0 119.0,430.0 102.0,440.0" fill="#505050" />
<polygon points="91.0,420.7 105.3,415.0 117.0,420.7 102.7,426.4" fill="#9ad860" />
<polygon points="91.0,420.7 102.7,426.4 102.7,428.4 91.0,422.7" fill="#5a9a3a" />
<polygon points="91.0,424.7 105.3,419.0 117.0,424.7 102.7,430.4" fill="#7cc850" />
<polygon points="91.0,424.7 102.7,430.4 102.7,432.4 91.0,426.7" fill="#5a9a3a" />
<polygon points="91.0,428.7 105.3,423.0 117.0,428.7 102.7,434.4" fill="#9ad860" />
<polygon points="91.0,428.7 102.7,434.4 102.7,436.4 91.0,430.7" fill="#5a9a3a" />
<text x="64.5" y="402" font-size="14" font-weight="bold" fill="#15151a" text-anchor="middle" dominant-baseline="central" textLength="36" lengthAdjust="spacingAndGlyphs" transform="rotate(-102 64.5 402)" >U-Net</text>
<rect x="180.30" y="163.40" width="76" height="54" fill="url(#hexgray)" transform="rotate(-39.6 218.3 190.4)" />
<circle cx="220" cy="191" r="4" fill="url(#dotw)"/>
<text x="194" y="162" font-size="11.5" font-weight="bold" fill="#1a1a1a" text-anchor="middle" dominant-baseline="central" textLength="37" lengthAdjust="spacingAndGlyphs" transform="rotate(-40 194 162)" >Defect</text>
<rect x="328.00" y="164.50" width="64" height="57" fill="#fcfcfc" transform="rotate(38 360 193)" />
<line x1="351.4" y1="165.3" x2="358.2" y2="166.5" stroke="#c07088" stroke-width="0.9"/>
<line x1="351.4" y1="165.3" x2="339.5" y2="180.1" stroke="#c07088" stroke-width="0.9"/>
<line x1="351.4" y1="165.3" x2="365.3" y2="178.0" stroke="#c07088" stroke-width="0.9"/>
<line x1="365.3" y1="178.0" x2="372.1" y2="179.2" stroke="#c07088" stroke-width="0.9"/>
<line x1="365.3" y1="178.0" x2="353.5" y2="192.7" stroke="#c07088" stroke-width="0.9"/>
<line x1="365.3" y1="178.0" x2="379.3" y2="190.6" stroke="#c07088" stroke-width="0.9"/>
<line x1="379.3" y1="190.6" x2="386.1" y2="191.8" stroke="#c07088" stroke-width="0.9"/>
<line x1="379.3" y1="190.6" x2="367.4" y2="205.4" stroke="#c07088" stroke-width="0.9"/>
<line x1="339.5" y1="180.1" x2="346.3" y2="181.2" stroke="#c07088" stroke-width="0.9"/>
<line x1="339.5" y1="180.1" x2="327.7" y2="194.8" stroke="#c07088" stroke-width="0.9"/>
<line x1="339.5" y1="180.1" x2="353.5" y2="192.7" stroke="#c07088" stroke-width="0.9"/>
<line x1="353.5" y1="192.7" x2="360.3" y2="193.9" stroke="#c07088" stroke-width="0.9"/>
<line x1="353.5" y1="192.7" x2="341.6" y2="207.5" stroke="#c07088" stroke-width="0.9"/>
<line x1="353.5" y1="192.7" x2="367.4" y2="205.4" stroke="#c07088" stroke-width="0.9"/>
<line x1="367.4" y1="205.4" x2="374.2" y2="206.6" stroke="#c07088" stroke-width="0.9"/>
<line x1="367.4" y1="205.4" x2="355.6" y2="220.1" stroke="#c07088" stroke-width="0.9"/>
<line x1="327.7" y1="194.8" x2="334.5" y2="196.0" stroke="#c07088" stroke-width="0.9"/>
<line x1="327.7" y1="194.8" x2="341.6" y2="207.5" stroke="#c07088" stroke-width="0.9"/>
<line x1="341.6" y1="207.5" x2="348.4" y2="208.7" stroke="#c07088" stroke-width="0.9"/>
<line x1="341.6" y1="207.5" x2="355.6" y2="220.1" stroke="#c07088" stroke-width="0.9"/>
<line x1="355.6" y1="220.1" x2="362.4" y2="221.3" stroke="#c07088" stroke-width="0.9"/>
<line x1="358.2" y1="166.5" x2="365.0" y2="167.7" stroke="#c07088" stroke-width="0.9"/>
<line x1="358.2" y1="166.5" x2="346.3" y2="181.2" stroke="#c07088" stroke-width="0.9"/>
<line x1="358.2" y1="166.5" x2="372.1" y2="179.2" stroke="#c07088" stroke-width="0.9"/>
<line x1="372.1" y1="179.2" x2="378.9" y2="180.4" stroke="#c07088" stroke-width="0.9"/>
<line x1="372.1" y1="179.2" x2="360.3" y2="193.9" stroke="#c07088" stroke-width="0.9"/>
<line x1="372.1" y1="179.2" x2="386.1" y2="191.8" stroke="#c07088" stroke-width="0.9"/>
<line x1="386.1" y1="191.8" x2="392.9" y2="193.0" stroke="#c07088" stroke-width="0.9"/>
<line x1="386.1" y1="191.8" x2="374.2" y2="206.6" stroke="#c07088" stroke-width="0.9"/>
<line x1="346.3" y1="181.2" x2="353.1" y2="182.5" stroke="#c07088" stroke-width="0.9"/>
<line x1="346.3" y1="181.2" x2="334.5" y2="196.0" stroke="#c07088" stroke-width="0.9"/>
<line x1="346.3" y1="181.2" x2="360.3" y2="193.9" stroke="#c07088" stroke-width="0.9"/>
<line x1="360.3" y1="193.9" x2="367.1" y2="195.1" stroke="#c07088" stroke-width="0.9"/>
<line x1="360.3" y1="193.9" x2="348.4" y2="208.7" stroke="#c07088" stroke-width="0.9"/>
<line x1="360.3" y1="193.9" x2="374.2" y2="206.6" stroke="#c07088" stroke-width="0.9"/>
<line x1="374.2" y1="206.6" x2="381.0" y2="207.8" stroke="#c07088" stroke-width="0.9"/>
<line x1="374.2" y1="206.6" x2="362.4" y2="221.3" stroke="#c07088" stroke-width="0.9"/>
<line x1="334.5" y1="196.0" x2="341.3" y2="197.2" stroke="#c07088" stroke-width="0.9"/>
<line x1="334.5" y1="196.0" x2="348.4" y2="208.7" stroke="#c07088" stroke-width="0.9"/>
<line x1="348.4" y1="208.7" x2="355.2" y2="209.9" stroke="#c07088" stroke-width="0.9"/>
<line x1="348.4" y1="208.7" x2="362.4" y2="221.3" stroke="#c07088" stroke-width="0.9"/>
<line x1="362.4" y1="221.3" x2="369.2" y2="222.5" stroke="#c07088" stroke-width="0.9"/>
<line x1="365.0" y1="167.7" x2="353.1" y2="182.5" stroke="#c07088" stroke-width="0.9"/>
<line x1="365.0" y1="167.7" x2="378.9" y2="180.4" stroke="#c07088" stroke-width="0.9"/>
<line x1="378.9" y1="180.4" x2="367.1" y2="195.1" stroke="#c07088" stroke-width="0.9"/>
<line x1="378.9" y1="180.4" x2="392.9" y2="193.0" stroke="#c07088" stroke-width="0.9"/>
<line x1="392.9" y1="193.0" x2="381.0" y2="207.8" stroke="#c07088" stroke-width="0.9"/>
<line x1="353.1" y1="182.5" x2="341.3" y2="197.2" stroke="#c07088" stroke-width="0.9"/>
<line x1="353.1" y1="182.5" x2="367.1" y2="195.1" stroke="#c07088" stroke-width="0.9"/>
<line x1="367.1" y1="195.1" x2="355.2" y2="209.9" stroke="#c07088" stroke-width="0.9"/>
<line x1="367.1" y1="195.1" x2="381.0" y2="207.8" stroke="#c07088" stroke-width="0.9"/>
<line x1="381.0" y1="207.8" x2="369.2" y2="222.5" stroke="#c07088" stroke-width="0.9"/>
<line x1="341.3" y1="197.2" x2="355.2" y2="209.9" stroke="#c07088" stroke-width="0.9"/>
<line x1="355.2" y1="209.9" x2="369.2" y2="222.5" stroke="#c07088" stroke-width="0.9"/>
<circle cx="351.4" cy="165.3" r="2.9" fill="#b8506e"/>
<circle cx="365.3" cy="178.0" r="2.9" fill="#b8506e"/>
<circle cx="379.3" cy="190.6" r="2.9" fill="#b8506e"/>
<circle cx="339.5" cy="180.1" r="2.9" fill="#b8506e"/>
<circle cx="353.5" cy="192.7" r="2.9" fill="#b8506e"/>
<circle cx="367.4" cy="205.4" r="2.9" fill="#b8506e"/>
<circle cx="327.7" cy="194.8" r="2.9" fill="#b8506e"/>
<circle cx="341.6" cy="207.5" r="2.9" fill="#b8506e"/>
<circle cx="355.6" cy="220.1" r="2.9" fill="#b8506e"/>
<circle cx="358.2" cy="166.5" r="2.9" fill="#b8506e"/>
<circle cx="372.1" cy="179.2" r="2.9" fill="#b8506e"/>
<circle cx="386.1" cy="191.8" r="2.9" fill="#b8506e"/>
<circle cx="346.3" cy="181.2" r="2.9" fill="#b8506e"/>
<circle cx="360.3" cy="193.9" r="2.9" fill="#b8506e"/>
<circle cx="374.2" cy="206.6" r="2.9" fill="#b8506e"/>
<circle cx="334.5" cy="196.0" r="2.9" fill="#b8506e"/>
<circle cx="348.4" cy="208.7" r="2.9" fill="#b8506e"/>
<circle cx="362.4" cy="221.3" r="2.9" fill="#b8506e"/>
<circle cx="365.0" cy="167.7" r="2.9" fill="#b8506e"/>
<circle cx="378.9" cy="180.4" r="2.9" fill="#b8506e"/>
<circle cx="392.9" cy="193.0" r="2.9" fill="#b8506e"/>
<circle cx="353.1" cy="182.5" r="2.9" fill="#b8506e"/>
<circle cx="367.1" cy="195.1" r="2.9" fill="#b8506e"/>
<circle cx="381.0" cy="207.8" r="2.9" fill="#b8506e"/>
<circle cx="341.3" cy="197.2" r="2.9" fill="#b8506e"/>
<circle cx="355.2" cy="209.9" r="2.9" fill="#b8506e"/>
<circle cx="369.2" cy="222.5" r="2.9" fill="#b8506e"/>
<text x="385.5" y="166.3" font-size="11.5" font-weight="bold" fill="#1a1a1a" text-anchor="middle" dominant-baseline="central" textLength="50" lengthAdjust="spacingAndGlyphs" transform="rotate(38 385.5 166.3)" >Structure</text>
<rect x="363.60" y="290.30" width="60" height="61" fill="#333c40" transform="rotate(19.5 393.6 320.8)" />
<g transform="translate(393.6 320.8) rotate(19.5)">
<rect x="-25" y="-28" width="6" height="56" fill="#2a7070" opacity="0.35"/>
<rect x="-15" y="-28" width="6" height="56" fill="#2a7070" opacity="0.35"/>
<rect x="-5" y="-28" width="6" height="56" fill="#2a7070" opacity="0.35"/>
<rect x="5" y="-28" width="6" height="56" fill="#2a7070" opacity="0.35"/>
<rect x="15" y="-28" width="6" height="56" fill="#2a7070" opacity="0.35"/>
<ellipse cx="-17" cy="-4" rx="2.5" ry="8" fill="#b83a34" opacity="0.6"/>
<ellipse cx="-7" cy="6" rx="2.5" ry="9" fill="#b83a34" opacity="0.6"/>
<ellipse cx="5" cy="2" rx="3" ry="9" fill="#b83a34" opacity="0.6"/>
<ellipse cx="15" cy="-6" rx="2.5" ry="7" fill="#b83a34" opacity="0.6"/>
<ellipse cx="-12" cy="-18" rx="1.5" ry="5" fill="#b83a34" opacity="0.6"/>
<ellipse cx="10" cy="18" rx="1.5" ry="5" fill="#b83a34" opacity="0.6"/>
</g>
<text x="430.7" y="332" font-size="11.5" font-weight="bold" fill="#1a1a1a" text-anchor="middle" dominant-baseline="central" textLength="47" lengthAdjust="spacingAndGlyphs" transform="rotate(110 430.7 332)" >Spectrum</text>
<rect x="150.50" y="285.00" width="58" height="62" fill="#c4c4c4" transform="rotate(-15.5 179.5 316)" />
<g transform="translate(179.5 316) rotate(-15.5)">
<ellipse cx="-5" cy="-12" rx="11" ry="5" fill="#b07880" stroke="#d05060" stroke-width="1.5" transform="rotate(35 -5 -12)"/>
<ellipse cx="7" cy="10" rx="9" ry="4.5" fill="#101820" stroke="#30b0e0" stroke-width="1.5"/>
<ellipse cx="22" cy="4" rx="3.5" ry="8" fill="#304030" stroke="#40a050" stroke-width="1.5"/>
<ellipse cx="-18" cy="14" rx="4" ry="5.5" fill="#303020" stroke="#d0c040" stroke-width="1.2"/>
<rect x="24" y="-27" width="1.2" height="11" fill="#222"/>
</g>
<text x="143.6" y="327.8" font-size="11.5" font-weight="bold" fill="#1a1a1a" text-anchor="middle" dominant-baseline="central" textLength="57" lengthAdjust="spacingAndGlyphs" transform="rotate(-102 143.6 327.8)" >Morphology</text>
<defs><pattern id="noise" width="3" height="3" patternUnits="userSpaceOnUse"><rect width="3" height="3" fill="#5a5a5a"/><rect x="0" y="0" width="1" height="1" fill="#666"/><rect x="2" y="1" width="1" height="1" fill="#505050"/></pattern></defs>
<polygon points="618.0,29.0 648.5,6.0 648.5,104.0 618.0,126.0" fill="url(#noise)" />
<polygon points="639.0,50.5 661.0,33.5 661.0,108.5 639.0,125.5" fill="#5a8a38" />
<polygon points="641.0,49.0 663.0,32.0 663.0,107.0 641.0,124.0" fill="#8fd45a" />
<polygon points="661.0,50.5 684.0,34.5 684.0,106.5 661.0,125.5" fill="#6aa83c" />
<polygon points="663.0,49.0 686.0,33.0 686.0,105.0 663.0,124.0" fill="#8fd45a" />
<line x1="628" y1="72" x2="634.0" y2="72.0" stroke="#5a80c8" stroke-width="1.2"/>
<polygon points="637.0,72.0 634.0,73.7 634.0,70.3" fill="#5a80c8" />
<line x1="650" y1="72" x2="657.0" y2="72.0" stroke="#4b7ab8" stroke-width="1.2"/>
<polygon points="660.0,72.0 657.0,73.7 657.0,70.3" fill="#4b7ab8" />
<text x="608.5" y="67" font-size="10" font-weight="bold" fill="#2a2a2a" text-anchor="middle" dominant-baseline="central" textLength="52" lengthAdjust="spacingAndGlyphs" transform="rotate(-90 608.5 67)" >Input image</text>
<line x1="692" y1="72.5" x2="874.0" y2="72.5" stroke="#111" stroke-width="1.6"/>
<polygon points="879.0,72.5 874.0,75.2 874.0,69.8" fill="#111" />
<polygon points="880.0,50.5 902.0,34.5 902.0,109.5 880.0,125.5" fill="#f4a58e" />
<polygon points="883.0,49.0 905.0,33.0 905.0,108.0 883.0,124.0" fill="#4ee58e" />
<polygon points="899.5,50.5 921.5,33.0 921.5,108.5 899.5,125.5" fill="#6aa83c" />
<polygon points="902.0,49.0 924.0,31.5 924.0,107.0 902.0,124.0" fill="#8fd45a" />
<polygon points="918.5,50.5 938.5,37.5 938.5,108.5 918.5,125.5" fill="#6aa83c" />
<polygon points="921.0,49.0 941.0,36.0 941.0,107.0 921.0,124.0" fill="#8fd45a" />
<polygon points="937.5,25.0 968.0,3.0 968.0,100.0 937.5,123.0" fill="#14b4f0" />
<polygon points="959.0,28.0 990.0,3.0 990.0,100.0 959.0,124.0" fill="#050505" />
<rect x="973" y="62" width="2" height="5" fill="#fff"/>
<line x1="886" y1="72" x2="895.0" y2="72.0" stroke="#2a8ad0" stroke-width="1.2"/>
<polygon points="898.0,72.0 895.0,73.7 895.0,70.3" fill="#2a8ad0" />
<line x1="905" y1="72" x2="914.0" y2="72.0" stroke="#3a78c8" stroke-width="1.2"/>
<polygon points="917.0,72.0 914.0,73.7 914.0,70.3" fill="#3a78c8" />
<line x1="926" y1="71" x2="935.0" y2="71.0" stroke="#a02010" stroke-width="1.6"/>
<polygon points="938.0,71.0 935.0,72.7 935.0,69.3" fill="#a02010" />
<line x1="943" y1="72" x2="952.0" y2="72.0" stroke="#5a7ad0" stroke-width="1.0"/>
<polygon points="955.0,72.0 952.0,73.7 952.0,70.3" fill="#5a7ad0" />
<text x="1001.5" y="52" font-size="10" font-weight="bold" fill="#2a2a2a" text-anchor="middle" dominant-baseline="central" textLength="91" lengthAdjust="spacingAndGlyphs" transform="rotate(-90 1001.5 52)" >Output segmentation</text>
<polygon points="668.0,136.5 689.0,130.1 689.0,175.5 668.0,182.5" fill="#6aa83c" />
<polygon points="671.0,135.0 692.0,128.6 692.0,174.0 671.0,181.0" fill="#8fd45a" />
<line x1="697.5" y1="159" x2="826.0" y2="159.0" stroke="#111" stroke-width="1.6"/>
<polygon points="831.0,159.0 826.0,161.8 826.0,156.2" fill="#111" />
<polygon points="834.6,146.2 853.8,130.0 853.8,168.1 834.6,182.0" fill="#f4a58e" />
<polygon points="840.6,144.7 859.8,128.5 859.8,166.6 840.6,180.5" fill="#4ee58e" />
<polygon points="840.6,144.7 843.6,143.0 843.6,180.0 840.6,180.5" fill="#34a865" />
<polygon points="854.0,143.9 873.0,131.2 873.0,169.3 854.0,183.2" fill="#6aa83c" />
<polygon points="857.0,142.4 876.0,129.7 876.0,167.8 857.0,181.7" fill="#8fd45a" />
<polygon points="873.0,146.2 892.6,131.8 892.6,169.3 873.0,184.3" fill="#6aa83c" />
<polygon points="876.0,144.7 895.6,130.3 895.6,167.8 876.0,182.8" fill="#8fd45a" />
<line x1="845" y1="158" x2="850.5" y2="158.0" stroke="#3a8ad0" stroke-width="1.1"/>
<polygon points="853.0,158.0 850.5,159.4 850.5,156.6" fill="#3a8ad0" />
<line x1="864" y1="158" x2="870.5" y2="158.0" stroke="#3a8ad0" stroke-width="1.1"/>
<polygon points="873.0,158.0 870.5,159.4 870.5,156.6" fill="#3a8ad0" />
<line x1="888.7" y1="133" x2="888.7" y2="123.0" stroke="#b02030" stroke-width="1.3"/>
<polygon points="888.7,120.0 890.4,123.0 887.1,123.0" fill="#b02030" />
<line x1="846.6" y1="191" x2="846.6" y2="183.5" stroke="#b02030" stroke-width="1.3"/>
<polygon points="846.6,180.5 848.2,183.5 845.0,183.5" fill="#b02030" />
<polygon points="682.4,226.0 682.4,201.8 676.4,197.8 676.4,222.0" fill="#5e9a34" />
<polygon points="682.4,201.8 695.6,196.8 689.6,192.8 676.4,197.8" fill="#78b848" />
<polygon points="682.4,201.8 695.6,196.8 695.6,221.0 682.4,226.0" fill="#94d25a" />
<line x1="701" y1="210.6" x2="782.5" y2="210.6" stroke="#111" stroke-width="1.6"/>
<polygon points="787.5,210.6 782.5,213.3 782.5,207.8" fill="#111" />
<polygon points="797.0,224.5 797.0,198.0 792.0,195.0 792.0,221.5" fill="#e89078" />
<polygon points="797.0,198.0 806.0,195.0 801.0,192.0 792.0,195.0" fill="#f0a088" />
<polygon points="797.0,198.0 806.0,195.0 806.0,221.5 797.0,224.5" fill="#f4a58e" />
<polygon points="803.5,225.0 803.5,199.0 798.5,196.0 798.5,222.0" fill="#2e9a5a" />
<polygon points="803.5,199.0 817.5,195.0 812.5,192.0 798.5,196.0" fill="#3cc070" />
<polygon points="803.5,199.0 817.5,195.0 817.5,221.0 803.5,225.0" fill="#4ee58e" />
<polygon points="822.5,225.6 822.5,201.0 816.5,197.0 816.5,221.6" fill="#5e9a34" />
<polygon points="822.5,201.0 835.5,197.0 829.5,193.0 816.5,197.0" fill="#78b848" />
<polygon points="822.5,201.0 835.5,197.0 835.5,221.6 822.5,225.6" fill="#94d25a" />
<polygon points="840.3,226.8 840.3,201.0 834.3,197.0 834.3,222.8" fill="#5e9a34" />
<polygon points="840.3,201.0 854.0,197.0 848.0,193.0 834.3,197.0" fill="#78b848" />
<polygon points="840.3,201.0 854.0,197.0 854.0,222.8 840.3,226.8" fill="#94d25a" />
<line x1="808" y1="211" x2="813.5" y2="211.0" stroke="#3a8ad0" stroke-width="1.1"/>
<polygon points="816.0,211.0 813.5,212.4 813.5,209.6" fill="#3a8ad0" />
<line x1="826" y1="211" x2="831.5" y2="211.0" stroke="#3a8ad0" stroke-width="1.1"/>
<polygon points="834.0,211.0 831.5,212.4 831.5,209.6" fill="#3a8ad0" />
<line x1="808.2" y1="240" x2="808.2" y2="231.0" stroke="#b02030" stroke-width="1.3"/>
<polygon points="808.2,228.0 809.9,231.0 806.6,231.0" fill="#b02030" />
<polygon points="691.0,263.3 691.0,249.0 685.0,245.0 685.0,259.3" fill="#5e9a34" />
<polygon points="691.0,249.0 705.3,245.0 699.3,241.0 685.0,245.0" fill="#78b848" />
<polygon points="691.0,249.0 705.3,245.0 705.3,259.3 691.0,263.3" fill="#94d25a" />
<line x1="709.5" y1="250.5" x2="734.9" y2="250.5" stroke="#111" stroke-width="1.6"/>
<polygon points="739.4,250.5 734.9,253.0 734.9,248.0" fill="#111" />
<polygon points="748.7,263.3 748.7,243.7 743.7,240.7 743.7,260.3" fill="#e89078" />
<polygon points="748.7,243.7 760.0,240.7 755.0,237.7 743.7,240.7" fill="#f0a088" />
<polygon points="748.7,243.7 760.0,240.7 760.0,260.3 748.7,263.3" fill="#f4a58e" />
<polygon points="758.0,263.3 758.0,245.7 752.0,241.7 752.0,259.3" fill="#2e9a5a" />
<polygon points="758.0,245.7 775.8,241.7 769.8,237.7 752.0,241.7" fill="#3cc070" />
<polygon points="758.0,245.7 775.8,241.7 775.8,259.3 758.0,263.3" fill="#4ee58e" />
<polygon points="782.8,263.3 782.8,249.0 776.8,245.0 776.8,259.3" fill="#5e9a34" />
<polygon points="782.8,249.0 798.2,245.0 792.2,241.0 776.8,245.0" fill="#78b848" />
<polygon points="782.8,249.0 798.2,245.0 798.2,259.3 782.8,263.3" fill="#94d25a" />
<polygon points="805.3,263.3 805.3,249.0 799.3,245.0 799.3,259.3" fill="#5e9a34" />
<polygon points="805.3,249.0 819.6,245.0 813.6,241.0 799.3,245.0" fill="#78b848" />
<polygon points="805.3,249.0 819.6,245.0 819.6,259.3 805.3,263.3" fill="#94d25a" />
<line x1="763" y1="251" x2="768.5" y2="251.0" stroke="#3a8ad0" stroke-width="1.1"/>
<polygon points="771.0,251.0 768.5,252.4 768.5,249.6" fill="#3a8ad0" />
<line x1="786" y1="251" x2="791.5" y2="251.0" stroke="#3a8ad0" stroke-width="1.1"/>
<polygon points="794.0,251.0 791.5,252.4 791.5,249.6" fill="#3a8ad0" />
<line x1="808.5" y1="241" x2="808.5" y2="230.0" stroke="#b02030" stroke-width="1.3"/>
<polygon points="808.5,227.0 810.1,230.0 806.9,230.0" fill="#b02030" />
<polygon points="695.2,292.2 695.2,284.2 689.2,281.2 689.2,289.2" fill="#5e9a34" />
<polygon points="695.2,284.2 714.9,280.2 708.9,277.2 689.2,281.2" fill="#78b848" />
<polygon points="695.2,284.2 714.9,280.2 714.9,288.2 695.2,292.2" fill="#94d25a" />
<polygon points="746.5,292.2 746.5,284.2 740.5,281.2 740.5,289.2" fill="#5e9a34" />
<polygon points="746.5,284.2 765.0,280.2 759.0,277.2 740.5,281.2" fill="#78b848" />
<polygon points="746.5,284.2 765.0,280.2 765.0,288.2 746.5,292.2" fill="#94d25a" />
<line x1="718" y1="284.3" x2="729.5" y2="284.3" stroke="#4a78c8" stroke-width="1.4"/>
<polygon points="733.0,284.3 729.5,286.2 729.5,282.4" fill="#4a78c8" />
<line x1="759.3" y1="278" x2="759.3" y2="268.5" stroke="#f0c020" stroke-width="1.2"/>
<polygon points="759.3,265.5 760.9,268.5 757.6,268.5" fill="#f0c020" />
<line x1="666" y1="125" x2="669.3" y2="138.1" stroke="#4a6ac0" stroke-width="1.2"/>
<polygon points="670.0,141.0 667.7,138.5 670.9,137.7" fill="#4a6ac0" />
<line x1="678.5" y1="182" x2="680.5" y2="193.0" stroke="#4a6ac0" stroke-width="1.2"/>
<polygon points="681.0,196.0 678.8,193.3 682.1,192.8" fill="#4a6ac0" />
<line x1="686" y1="227" x2="688.5" y2="238.1" stroke="#4a6ac0" stroke-width="1.2"/>
<polygon points="689.2,241.0 686.9,238.4 690.1,237.7" fill="#4a6ac0" />
<line x1="697.8" y1="264.4" x2="700.1" y2="272.1" stroke="#4a6ac0" stroke-width="1.2"/>
<polygon points="701.0,275.0 698.6,272.6 701.7,271.7" fill="#4a6ac0" />
<line x1="829" y1="268.5" x2="842.5" y2="268.5" stroke="#111" stroke-width="1.4"/>
<polygon points="846.0,268.5 842.5,270.4 842.5,266.6" fill="#111" />
<line x1="829" y1="286" x2="842.5" y2="286.0" stroke="#4a78c8" stroke-width="1.4"/>
<polygon points="846.0,286.0 842.5,287.9 842.5,284.1" fill="#4a78c8" />
<line x1="919" y1="274" x2="919.0" y2="266.0" stroke="#c02030" stroke-width="1.3"/>
<polygon points="919.0,263.0 920.6,266.0 917.4,266.0" fill="#c02030" />
<line x1="919" y1="292" x2="919.0" y2="284.0" stroke="#f0c020" stroke-width="1.3"/>
<polygon points="919.0,281.0 920.6,284.0 917.4,284.0" fill="#f0c020" />
<text x="853.5" y="269" font-size="9.5" font-weight="normal" fill="#333" text-anchor="start" dominant-baseline="central" textLength="44" lengthAdjust="spacingAndGlyphs" >concatenate</text>
<text x="853.5" y="286" font-size="9.5" font-weight="normal" fill="#333" text-anchor="start" dominant-baseline="central" textLength="40.5" lengthAdjust="spacingAndGlyphs" >conv &amp; relu</text>
<text x="927.6" y="269.5" font-size="9.5" font-weight="normal" fill="#333" text-anchor="start" dominant-baseline="central" textLength="50" lengthAdjust="spacingAndGlyphs" >upconv &amp; relu</text>
<text x="927.6" y="287" font-size="9.5" font-weight="normal" fill="#333" text-anchor="start" dominant-baseline="central" textLength="44" lengthAdjust="spacingAndGlyphs" >up-sampling</text>
<rect x="1022.6" y="0" width="1.6" height="302.5" fill="#3a3a3a"/>
<defs><pattern id="lat" width="3.5" height="6.06" patternUnits="userSpaceOnUse" patternTransform="rotate(-30)">
<rect width="3.5" height="6.06" fill="#2e2e2e"/>
<ellipse cx="1.75" cy="1.52" rx="0.95" ry="1.3" fill="#bcbcbc"/><ellipse cx="0" cy="4.55" rx="0.95" ry="1.3" fill="#bcbcbc"/><ellipse cx="3.5" cy="4.55" rx="0.95" ry="1.3" fill="#bcbcbc"/>
<ellipse cx="1.75" cy="7.58" rx="0.95" ry="1.3" fill="#bcbcbc"/><ellipse cx="1.75" cy="-1.52" rx="0.95" ry="1.3" fill="#bcbcbc"/>
</pattern></defs>
<rect x="575" y="309" width="145" height="119" fill="url(#lat)"/>
<rect x="723" y="309" width="146" height="119" fill="url(#lat)"/>
<rect x="872" y="308" width="146" height="119" fill="url(#lat)"/>
<rect x="575" y="431.5" width="146" height="119.3" fill="url(#lat)"/>
<rect x="725" y="431.5" width="146" height="119.3" fill="url(#lat)"/>
<polygon points="627.8,352.0 637.0,340.5 659.0,336.0 661.4,390.0 655.6,397.0 627.8,383.0" fill="#7e7e80" stroke="#6a9a5a" stroke-width="1.8"/>
<polyline points="659,336 661.4,390 655.6,397" fill="none" stroke="#b05050" stroke-width="1.2"/>
<polygon points="778.0,343.0 802.0,337.4 807.0,394.0 797.5,394.0 778.0,382.0" fill="#7e7e80" stroke="#7a9a5a" stroke-width="1.8"/>
<polyline points="778,343 778,382 797.5,394" fill="none" stroke="#b05050" stroke-width="1.2"/>
<polygon points="930.6,348.0 952.4,345.7 954.8,382.0 930.6,374.7" fill="#7e7e80" stroke="#8a8a5a" stroke-width="1.8"/>
<polyline points="930.6,374.7 954.8,382" fill="none" stroke="#c04040" stroke-width="1.5"/>
<circle cx="644" cy="492.6" r="16" fill="#7e7e80" stroke="#8a8a5a" stroke-width="1.5"/>
<circle cx="790" cy="492" r="10.5" fill="#7e7e80" stroke="#7a9a5a" stroke-width="1.5"/>
<text x="588" y="323.5" font-size="16.5" font-weight="bold" fill="#ffffff" text-anchor="middle" dominant-baseline="central" textLength="17.5" lengthAdjust="spacingAndGlyphs" stroke="#ffffff" stroke-width="0.5">(a)</text>
<text x="738" y="323.5" font-size="16.5" font-weight="bold" fill="#ffffff" text-anchor="middle" dominant-baseline="central" textLength="17.5" lengthAdjust="spacingAndGlyphs" stroke="#ffffff" stroke-width="0.5">(b)</text>
<text x="884.7" y="323.5" font-size="16.5" font-weight="bold" fill="#ffffff" text-anchor="middle" dominant-baseline="central" textLength="17.5" lengthAdjust="spacingAndGlyphs" stroke="#ffffff" stroke-width="0.5">(c)</text>
<text x="588" y="446.5" font-size="16.5" font-weight="bold" fill="#ffffff" text-anchor="middle" dominant-baseline="central" textLength="17.5" lengthAdjust="spacingAndGlyphs" stroke="#ffffff" stroke-width="0.5">(d)</text>
<text x="737" y="446.5" font-size="16.5" font-weight="bold" fill="#ffffff" text-anchor="middle" dominant-baseline="central" textLength="17.5" lengthAdjust="spacingAndGlyphs" stroke="#ffffff" stroke-width="0.5">(e)</text>
<text x="695" y="323.5" font-size="15" font-weight="bold" fill="#ffffff" text-anchor="middle" dominant-baseline="central" textLength="18.5" lengthAdjust="spacingAndGlyphs" stroke="#ffffff" stroke-width="0.5">0 s</text>
<text x="846" y="323.5" font-size="15" font-weight="bold" fill="#ffffff" text-anchor="middle" dominant-baseline="central" textLength="29" lengthAdjust="spacingAndGlyphs" stroke="#ffffff" stroke-width="0.5">60 s</text>
<text x="993.7" y="323.5" font-size="15" font-weight="bold" fill="#ffffff" text-anchor="middle" dominant-baseline="central" textLength="33.6" lengthAdjust="spacingAndGlyphs" stroke="#ffffff" stroke-width="0.5">120 s</text>
<text x="690.4" y="446" font-size="15" font-weight="bold" fill="#ffffff" text-anchor="middle" dominant-baseline="central" textLength="34.8" lengthAdjust="spacingAndGlyphs" stroke="#ffffff" stroke-width="0.5">180 s</text>
<text x="841.7" y="446" font-size="15" font-weight="bold" fill="#ffffff" text-anchor="middle" dominant-baseline="central" textLength="34.8" lengthAdjust="spacingAndGlyphs" stroke="#ffffff" stroke-width="0.5">240 s</text>
<text x="845.5" y="520.7" font-size="12" font-weight="bold" fill="#f4f4f4" text-anchor="middle" dominant-baseline="central" >5 nm</text>
<rect x="824.3" y="534.5" width="36.3" height="3" fill="#f4f4f4"/>
<rect x="905.5" y="440.2" width="105.5" height="88.5" fill="none" stroke="#222" stroke-width="1.2"/>
<line x1="913.1" y1="450.4" x2="1001.3" y2="516.6" stroke="#e03030" stroke-width="1.3"/>
<polyline points="913.1,451.3 932.7,462.5 952.3,484.8 971.9,488.0 991.5,506.4 1001.3,519.8" fill="none" stroke="#2020e0" stroke-width="1.3"/>
<rect x="911.5" y="449.7" width="3.2" height="3.2" fill="#2020e0"/>
<rect x="931.1" y="460.9" width="3.2" height="3.2" fill="#2020e0"/>
<rect x="950.7" y="483.2" width="3.2" height="3.2" fill="#2020e0"/>
<rect x="970.3" y="486.4" width="3.2" height="3.2" fill="#2020e0"/>
<rect x="989.9" y="504.8" width="3.2" height="3.2" fill="#2020e0"/>
<rect x="999.7" y="518.2" width="3.2" height="3.2" fill="#2020e0"/>
<text x="904" y="519.8" font-size="9" font-weight="bold" fill="#222" text-anchor="end" dominant-baseline="central" textLength="4.6" lengthAdjust="spacingAndGlyphs" >0</text>
<text x="904" y="503.87999999999994" font-size="9" font-weight="bold" fill="#222" text-anchor="end" dominant-baseline="central" textLength="4.6" lengthAdjust="spacingAndGlyphs" >5</text>
<text x="904" y="487.9599999999999" font-size="9" font-weight="bold" fill="#222" text-anchor="end" dominant-baseline="central" textLength="9.2" lengthAdjust="spacingAndGlyphs" >10</text>
<text x="904" y="472.03999999999996" font-size="9" font-weight="bold" fill="#222" text-anchor="end" dominant-baseline="central" textLength="9.2" lengthAdjust="spacingAndGlyphs" >15</text>
<text x="904" y="456.11999999999995" font-size="9" font-weight="bold" fill="#222" text-anchor="end" dominant-baseline="central" textLength="9.2" lengthAdjust="spacingAndGlyphs" >20</text>
<text x="904" y="440.19999999999993" font-size="9" font-weight="bold" fill="#222" text-anchor="end" dominant-baseline="central" textLength="9.2" lengthAdjust="spacingAndGlyphs" >25</text>
<text x="913.1" y="536.5" font-size="9" font-weight="bold" fill="#222" text-anchor="middle" dominant-baseline="central" textLength="4.6" lengthAdjust="spacingAndGlyphs" >0</text>
<text x="929.4350000000001" y="536.5" font-size="9" font-weight="bold" fill="#222" text-anchor="middle" dominant-baseline="central" textLength="9.2" lengthAdjust="spacingAndGlyphs" >50</text>
<text x="945.77" y="536.5" font-size="9" font-weight="bold" fill="#222" text-anchor="middle" dominant-baseline="central" textLength="13.799999999999999" lengthAdjust="spacingAndGlyphs" >100</text>
<text x="962.105" y="536.5" font-size="9" font-weight="bold" fill="#222" text-anchor="middle" dominant-baseline="central" textLength="13.799999999999999" lengthAdjust="spacingAndGlyphs" >150</text>
<text x="978.44" y="536.5" font-size="9" font-weight="bold" fill="#222" text-anchor="middle" dominant-baseline="central" textLength="13.799999999999999" lengthAdjust="spacingAndGlyphs" >200</text>
<text x="994.775" y="536.5" font-size="9" font-weight="bold" fill="#222" text-anchor="middle" dominant-baseline="central" textLength="13.799999999999999" lengthAdjust="spacingAndGlyphs" >250</text>
<text x="1011.11" y="536.5" font-size="9" font-weight="bold" fill="#222" text-anchor="middle" dominant-baseline="central" textLength="13.799999999999999" lengthAdjust="spacingAndGlyphs" >300</text>
<text x="958.5" y="546.5" font-size="9.5" font-weight="bold" fill="#222" text-anchor="middle" dominant-baseline="central" textLength="31" lengthAdjust="spacingAndGlyphs" >Time (s)</text>
<g transform="rotate(-90 889.5 484)"><text x="889.5" y="484" font-size="9.5" font-weight="bold" fill="#222" text-anchor="middle" dominant-baseline="central">Area (nm<tspan font-size="6" baseline-shift="super">2</tspan>)</text></g>
<line x1="929.5" y1="446" x2="943.4" y2="446" stroke="#2020e0" stroke-width="1.3"/><rect x="935" y="444.4" width="3.2" height="3.2" fill="#2020e0"/>
<line x1="929.5" y1="456" x2="943.4" y2="456" stroke="#e03030" stroke-width="1.3"/>
<text x="945" y="446" font-size="7" font-weight="bold" fill="#222" text-anchor="start" dominant-baseline="central" textLength="63" lengthAdjust="spacingAndGlyphs" >Area of the nanopore</text>
<text x="945" y="456" font-size="7" font-weight="bold" fill="#222" text-anchor="start" dominant-baseline="central" textLength="39" lengthAdjust="spacingAndGlyphs" >Linear fitting</text>
<text x="881.5" y="446.5" font-size="17" font-weight="bold" fill="#111" text-anchor="middle" dominant-baseline="central" textLength="17.5" lengthAdjust="spacingAndGlyphs" >(f)</text>
<rect x="571" y="559" width="453" height="3" fill="#000"/>
</svg></body></html>
